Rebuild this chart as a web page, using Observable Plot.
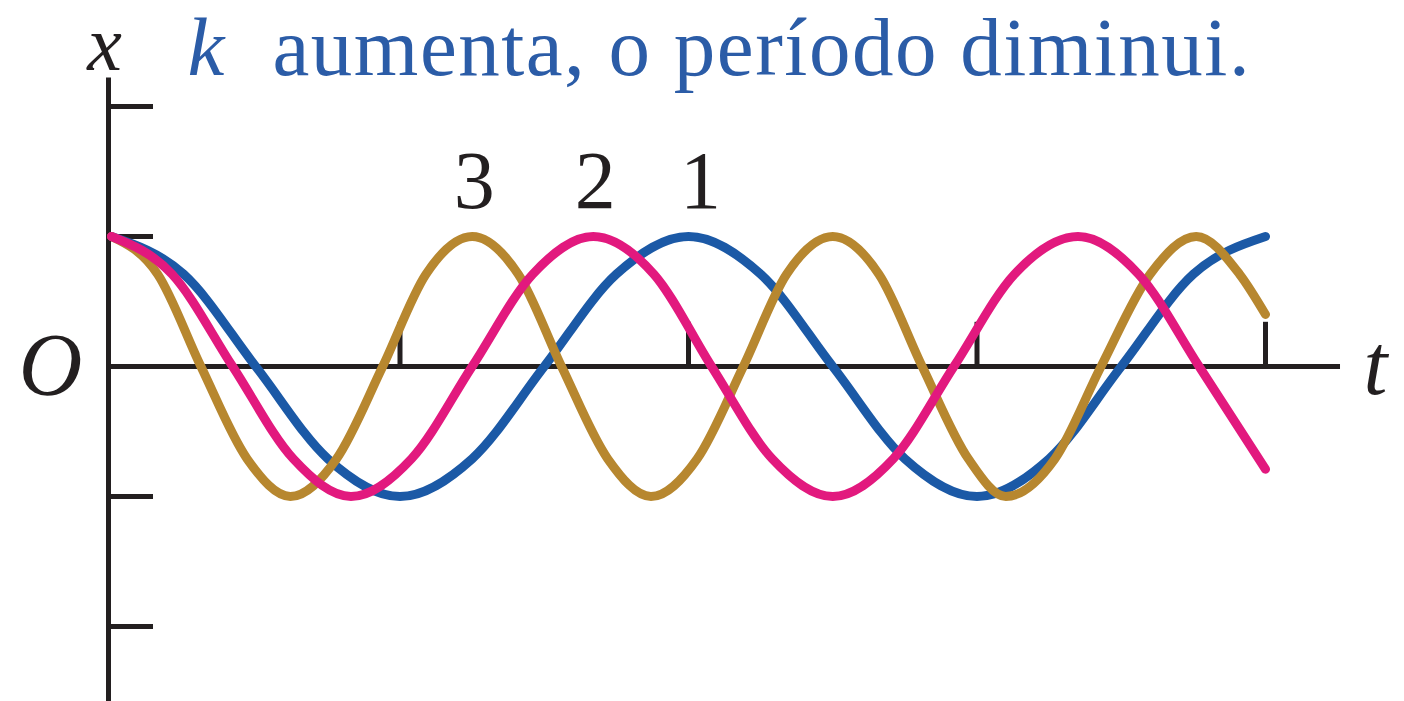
<!DOCTYPE html>
<html>
<head>
<meta charset="utf-8">
<script src="https://cdn.jsdelivr.net/npm/d3@7"></script>
<script src="https://cdn.jsdelivr.net/npm/@observablehq/plot@0.6"></script>
<style>
  html, body { margin: 0; padding: 0; background: #ffffff; }
  #chart svg { display: block; }
</style>
</head>
<body>
<div id="chart"></div>
<script>
// Oscillation curves x(t) for three spring constants (1 < 2 < 3)
const seriesNames = ["1", "2", "3"];
const seriesColors = ["#1b59a6", "#e2197e", "#b7872f"];

// curve 1 (smallest k, longest period)
const t1 = [0, 0.25, 0.5, 0.75, 1, 1.25, 1.5, 1.75, 2, 2.25, 2.5, 2.75, 3, 3.25, 3.5, 3.75, 4];
const x1 = [1, 0.71, 0, -0.71, -1, -0.71, 0, 0.71, 1, 0.71, 0, -0.71, -1, -0.71, 0, 0.71, 1];

// curve 2
const t2 = [0, 0.21, 0.42, 0.63, 0.83, 1.04, 1.25, 1.46, 1.67, 1.88, 2.08, 2.29, 2.5, 2.71, 2.92, 3.13, 3.35, 3.56, 3.77, 4];
const x2 = [1, 0.71, 0, -0.71, -1, -0.71, 0, 0.71, 1, 0.71, 0, -0.71, -1, -0.71, 0, 0.71, 1, 0.71, 0, -0.79];

// curve 3 (largest k, shortest period)
const t3 = [0, 0.16, 0.31, 0.47, 0.62, 0.78, 0.94, 1.09, 1.25, 1.41, 1.56, 1.72, 1.87, 2.03, 2.19, 2.34, 2.5, 2.66, 2.81, 2.97, 3.1, 3.27, 3.43, 3.6, 3.76, 3.91, 4];
const x3 = [1, 0.71, 0, -0.71, -1, -0.71, 0, 0.71, 1, 0.71, 0, -0.71, -1, -0.71, 0, 0.71, 1, 0.71, 0, -0.71, -1, -0.71, 0, 0.71, 1, 0.71, 0.4];

// the first crest after t = 0 of each curve carries its label
const peakT = [2, 1.67, 1.25];

const xTicks = [-2, -1, 1, 2];
const tTicks = [1, 2, 3, 4];

const titleK = "k";
const titleRest = "aumenta, o período diminui.";

// long table; drawing order: 1, 3, 2 (2 ends on top)
const rows = [];
const addSeries = (name, ts, xs) => ts.forEach((t, i) => rows.push({curve: name, t, x: xs[i]}));
addSeries("1", t1, x1);
addSeries("3", t3, x3);
addSeries("2", t2, x2);

const labels = seriesNames.map((name, i) => ({name, t: peakT[i]}));

const serif = "'Liberation Serif', 'Times New Roman', 'DejaVu Serif', serif";
const ink = "#231f20";
const titleBlue = "#2b5ca7";

const chart = Plot.plot({
  width: 1404,
  height: 701,
  margin: 0,
  style: {background: "#ffffff", fontFamily: serif},
  x: {domain: [0, 4], range: [111, 1265], axis: null},
  y: {domain: [-1, 1], range: [496, 236], axis: null},
  color: {domain: seriesNames, range: seriesColors},
  marks: [
    // axes
    Plot.ruleX([0], {y1: -2.8, y2: 2.22, dx: -3, stroke: ink, strokeWidth: 5}),
    Plot.ruleY([0], {x1: -0.01, x2: 4.26, stroke: ink, strokeWidth: 5}),
    Plot.ruleY(xTicks, {x1: 0, x2: 0.156, dx: -3, stroke: ink, strokeWidth: 5}),
    Plot.ruleX(tTicks, {y1: 0, y2: 0.34, stroke: ink, strokeWidth: 5}),

    // curves
    Plot.line(rows, {
      x: "t", y: "x", z: "curve", stroke: "curve",
      curve: "monotone-x", strokeWidth: 9, strokeLinecap: "round", strokeLinejoin: "round"
    }),

    // curve labels above their first crests
    Plot.text(labels.filter(d => d.name !== "1"), {
      x: "t", y: 1.223, text: "name", dx: 2,
      fontSize: 82, fill: ink, lineAnchor: "bottom", textAnchor: "middle"
    }),
    Plot.text(labels.filter(d => d.name === "1"), {
      x: "t", y: 1.223, text: "name", dx: 12,
      fontSize: 82, fill: ink, lineAnchor: "bottom", textAnchor: "middle"
    }),

    // axis names
    Plot.text(["x"], {x: -0.024, y: 2.277, text: d => d, fontSize: 78, fontStyle: "italic",
      fill: ink, lineAnchor: "bottom", textAnchor: "middle"}),
    Plot.text(["O"], {x: -0.211, y: -0.215, text: d => d, fontSize: 88, fontStyle: "italic",
      fill: ink, lineAnchor: "bottom", textAnchor: "middle"}),
    Plot.text(["t"], {x: 4.381, y: -0.208, text: d => d, fontSize: 86, fontStyle: "italic",
      fill: ink, lineAnchor: "bottom", textAnchor: "middle"}),

    // heading
    Plot.text([titleK], {x: 0.263, y: 2.246, text: d => d, fontSize: 83, fontStyle: "italic",
      fill: titleBlue, lineAnchor: "bottom", textAnchor: "start"}),
    Plot.text([titleRest], {x: 0.558, y: 2.246, text: d => d, fontSize: 83,
      fill: titleBlue, lineAnchor: "bottom", textAnchor: "start"})
  ]
});

// a little tracking on the heading so it spans the full plot width
d3.select(chart).selectAll("text")
  .filter(function () { return this.textContent === titleRest; })
  .attr("letter-spacing", 1.5);

document.getElementById("chart").appendChild(chart);
</script>
</body>
</html>
